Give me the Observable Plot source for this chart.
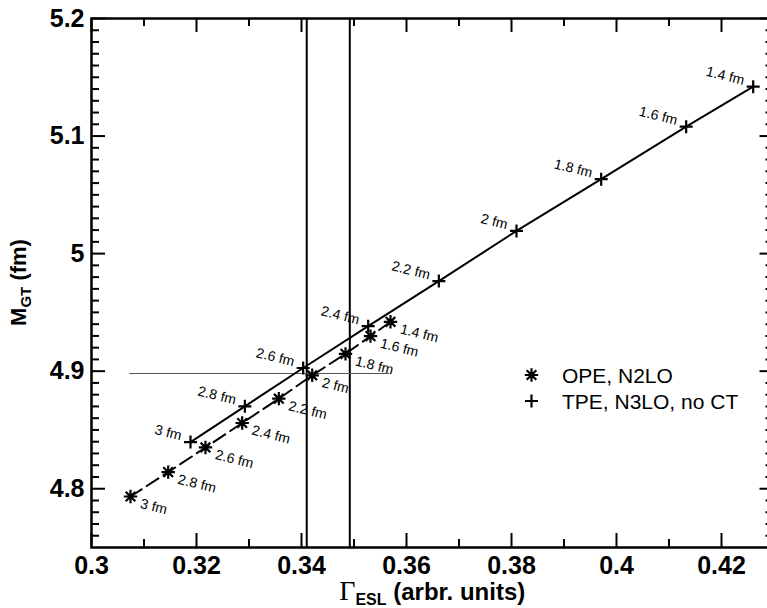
<!DOCTYPE html>
<html>
<head>
<meta charset="utf-8">
<script src="https://cdn.jsdelivr.net/npm/d3@7"></script>
<script src="https://cdn.jsdelivr.net/npm/@observablehq/plot@0.6"></script>
<style>
  html, body { margin: 0; padding: 0; background: #fff; }
  svg { display: block; overflow: hidden; }
</style>
</head>
<body>
<script>
// ---- data ----
const cutoffs = [1.4, 1.6, 1.8, 2.0, 2.2, 2.4, 2.6, 2.8, 3.0];
const cutoffLabels = ["1.4 fm", "1.6 fm", "1.8 fm", "2 fm", "2.2 fm", "2.4 fm", "2.6 fm", "2.8 fm", "3 fm"];
// TPE, N3LO, no CT  (plus markers, solid line)
const tpeGamma = [0.42604, 0.41327, 0.39708, 0.38095, 0.36616, 0.35270, 0.34032, 0.32921, 0.31886];
const tpeMGT   = [5.142, 5.108, 5.0633, 5.0193, 4.9766, 4.9383, 4.9027, 4.8701, 4.8397];
// OPE, N2LO (asterisk markers, dashed line)
const opeGamma = [0.35695, 0.35314, 0.34838, 0.34204, 0.33568, 0.32870, 0.32171, 0.31461, 0.30743];
const opeMGT   = [4.942, 4.9298, 4.9147, 4.8965, 4.8766, 4.8559, 4.8351, 4.8141, 4.7934];
// reference lines
const gammaBand = [0.341, 0.3492];
const mgtRef = [{y: 4.898, x1: 0.3073, x2: 0.3568}];
// axes
const xDomain = [0.3, 0.43];
const yDomain = [4.75, 5.2];
const xTicks = [0.3, 0.32, 0.34, 0.36, 0.38, 0.4, 0.42];
const xMinorTicks = [0.31, 0.33, 0.35, 0.37, 0.39, 0.41];
const yTicks = [4.8, 4.9, 5.0, 5.1, 5.2];
const yMinorTicks = d3.range(476, 520).filter(v => v % 10 !== 0).map(v => v / 100);
const legendLabels = ["OPE, N2LO", "TPE, N3LO, no CT"];

const tpe = cutoffs.map((c, i) => ({x: tpeGamma[i], y: tpeMGT[i], label: cutoffLabels[i]}));
const ope = cutoffs.map((c, i) => ({x: opeGamma[i], y: opeMGT[i], label: cutoffLabels[i]}));

// ---- symbols ----
const starSymbol = {
  draw(ctx, size) {
    const r = Math.sqrt(size / Math.PI);
    const d = r * 0.72;
    ctx.moveTo(0, -r); ctx.lineTo(0, r);
    ctx.moveTo(-r, 0); ctx.lineTo(r, 0);
    ctx.moveTo(-d, -d); ctx.lineTo(d, d);
    ctx.moveTo(-d, d); ctx.lineTo(d, -d);
  }
};
const plusSymbol = {
  draw(ctx, size) {
    const r = Math.sqrt(size / Math.PI);
    ctx.moveTo(0, -r); ctx.lineTo(0, r);
    ctx.moveTo(-r, 0); ctx.lineTo(r, 0);
  }
};

// ---- layout ----
const W = 767, H = 608;
const mL = 91, mT = 18, mB = 61, mR = -6.5;
const plotW = W - mL - mR, plotH = H - mT - mB;
const major = 14, minor = 8;
const FONT = "'Liberation Sans', Arial, Helvetica, sans-serif";

const svg = Plot.plot({
  width: W, height: H,
  marginLeft: mL, marginTop: mT, marginBottom: mB, marginRight: mR,
  style: {fontFamily: FONT, background: "#fff", overflow: "hidden"},
  x: {domain: xDomain, label: null},
  y: {domain: yDomain, label: null},
  marks: [
    // reference lines
    Plot.ruleX(gammaBand, {x: d => d, stroke: "black", strokeWidth: 2}),
    Plot.ruleY(mgtRef, {y: "y", x1: "x1", x2: "x2", stroke: "#555", strokeWidth: 1.2}),
    // tick marks (inside) - bottom, top
    Plot.tickX(xTicks, {x: d => d, insetTop: plotH - major, stroke: "black", strokeWidth: 2}),
    Plot.tickX(xTicks, {x: d => d, insetBottom: plotH - major, stroke: "black", strokeWidth: 2}),
    Plot.tickX(xMinorTicks, {x: d => d, insetTop: plotH - minor, stroke: "black", strokeWidth: 2}),
    Plot.tickX(xMinorTicks, {x: d => d, insetBottom: plotH - minor, stroke: "black", strokeWidth: 2}),
    // left, right
    Plot.tickY(yTicks, {y: d => d, insetRight: plotW - major, stroke: "black", strokeWidth: 2}),
    Plot.tickY(yTicks, {y: d => d, insetLeft: plotW - major, stroke: "black", strokeWidth: 2}),
    Plot.tickY(yMinorTicks, {y: d => d, insetRight: plotW - minor, stroke: "black", strokeWidth: 2}),
    Plot.tickY(yMinorTicks, {y: d => d, insetLeft: plotW - minor, stroke: "black", strokeWidth: 2}),
    // tick labels
    Plot.axisX({ticks: xTicks, tickSize: 0, tickPadding: 9, fontSize: 25, fontWeight: "bold", label: null, tickFormat: d3.format("")}),
    Plot.axisY({ticks: yTicks, tickSize: 0, tickPadding: 7, fontSize: 25, fontWeight: "bold", label: null, tickFormat: d3.format("")}),
    // series lines
    Plot.line(tpe, {x: "x", y: "y", stroke: "black", strokeWidth: 2}),
    Plot.line(ope, {x: "x", y: "y", stroke: "black", strokeWidth: 2, strokeDasharray: "14,6"}),
    // markers
    Plot.dot(tpe, {x: "x", y: "y", symbol: plusSymbol, r: 6.5, fill: "none", stroke: "black", strokeWidth: 2.2}),
    Plot.dot(ope, {x: "x", y: "y", symbol: starSymbol, r: 6.7, fill: "none", stroke: "black", strokeWidth: 2.2}),
    // point labels
    Plot.text(tpe, {x: "x", y: "y", text: "label", rotate: 14, textAnchor: "end", dx: -9, dy: -6, fontSize: 14, fill: "black"}),
    Plot.text(ope, {x: "x", y: "y", text: "label", rotate: 14, textAnchor: "start", dx: 10, dy: 7, fontSize: 14, fill: "black"}),
    // frame
    Plot.frame({stroke: "black", strokeWidth: 2.5})
  ]
});
document.body.appendChild(svg);

const s = d3.select(svg);
// x-axis label: Γ_ESL (arbr. units)
const xl = s.append("text")
  .attr("x", mL + plotW / 2).attr("y", 600)
  .attr("text-anchor", "middle")
  .attr("font-family", FONT).attr("font-weight", "bold").attr("font-size", 24)
  .attr("fill", "black");
xl.append("tspan").attr("font-family", "'Liberation Serif', 'Times New Roman', serif")
  .attr("font-weight", "normal").attr("font-size", 28).text("Γ");
xl.append("tspan").attr("font-size", 16).attr("dy", 5).text("ESL");
xl.append("tspan").attr("dy", -5).text(" (arbr. units)");

// y-axis label: M_GT (fm)
const yl = s.append("text")
  .attr("transform", `translate(26,${mT + plotH / 2}) rotate(-90)`)
  .attr("text-anchor", "middle")
  .attr("font-family", FONT).attr("font-weight", "bold").attr("font-size", 22)
  .attr("fill", "black");
yl.append("tspan").text("M");
yl.append("tspan").attr("font-size", 15).attr("dy", 5).text("GT");
yl.append("tspan").attr("dy", -5).text(" (fm)");

// legend
const legend = s.append("g").attr("text-anchor", "start");
const legSyms = [starSymbol, plusSymbol];
const legR = [6.7, 6.5];
legendLabels.forEach((lab, i) => {
  const cy = 375 + i * 26;
  legend.append("path")
    .attr("transform", `translate(531.5,${cy})`)
    .attr("d", d3.symbol(legSyms[i], Math.PI * legR[i] * legR[i])())
    .attr("fill", "none").attr("stroke", "black").attr("stroke-width", 2.2);
  legend.append("text")
    .attr("x", 562).attr("y", cy).attr("dy", "0.36em")
    .attr("text-anchor", "start")
    .attr("font-family", FONT).attr("font-size", 21).attr("fill", "black")
    .text(lab);
});
</script>
</body>
</html>
